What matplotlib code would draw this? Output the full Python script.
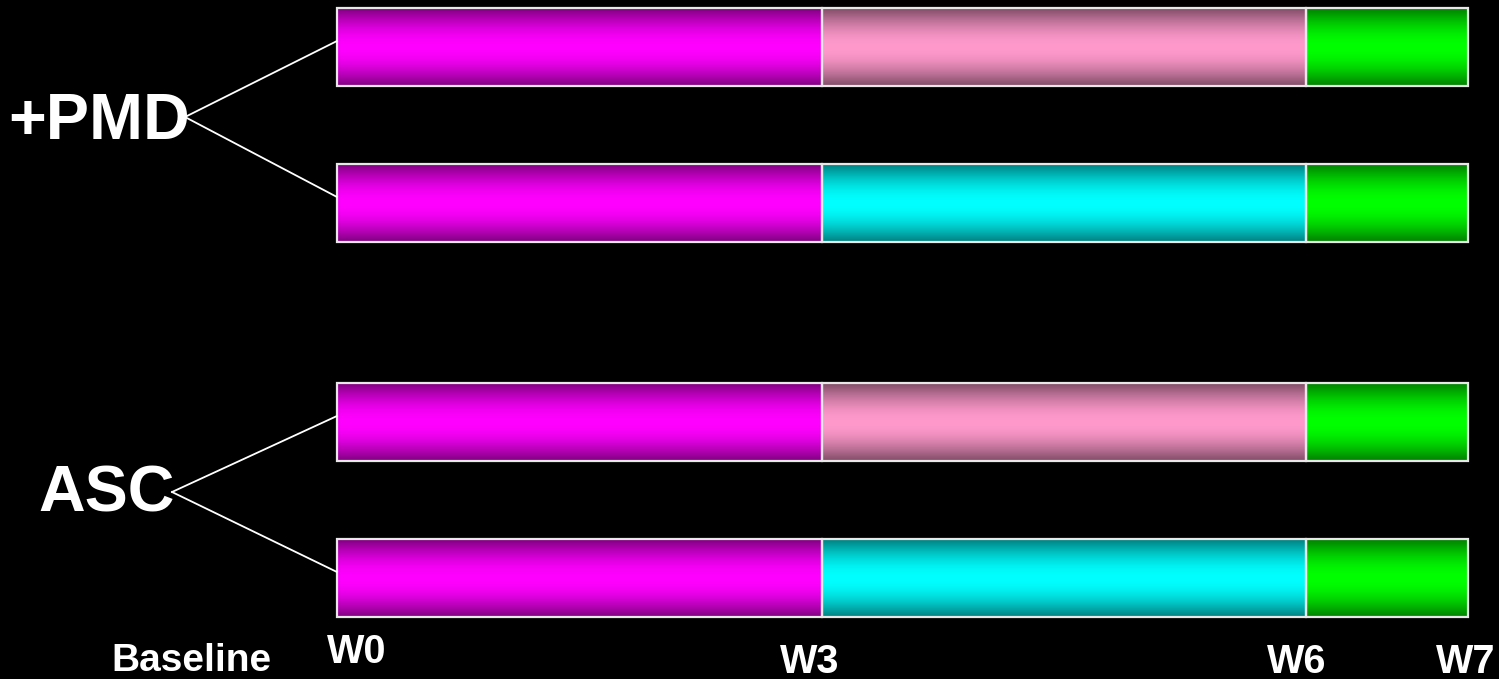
import matplotlib.pyplot as plt
import numpy as np

plt.rcParams['font.family'] = ['Liberation Sans', 'DejaVu Sans']

# week boundaries of each phase
weeks = [0, 3, 6, 7]
week_labels = ['W0', 'W3', 'W6', 'W7']
groups = ['+PMD', 'ASC']
# colour of the middle phase for each bar (top to bottom)
phase1_color = (1.0, 0.0, 1.0)
phase2_colors = [(1.0, 0.6, 0.8), (0.0, 1.0, 1.0), (1.0, 0.6, 0.8), (0.0, 1.0, 1.0)]
phase3_color = (0.0, 1.0, 0.0)

bar_tops = [8, 164, 383, 539]   # pixel rows
bar_h = 78

fig = plt.figure(figsize=(14.99, 6.79), dpi=100, facecolor='black')
ax = fig.add_axes([0, 0, 1, 1])
ax.set_facecolor('black')
px_week = 161.5
ax.set_xlim(-337 / px_week, (1499 - 337) / px_week)
ax.set_ylim(679, 0)
ax.axis('off')

t = np.linspace(0, 1, 200)
shade = 0.5 + 0.5 * np.sin(np.pi * t)

def grad_box(x0, x1, y0, col):
    img = np.ones((len(t), 1, 3)) * np.array(col)[None, None, :] * shade[:, None, None]
    ax.imshow(img, extent=[x0, x1, y0 + bar_h, y0], aspect='auto', interpolation='bilinear', zorder=1)
    ax.add_patch(plt.Rectangle((x0, y0), x1 - x0, bar_h, fill=False,
                               edgecolor='#e8e8e8', lw=1.6, zorder=2))

for i, y0 in enumerate(bar_tops):
    cols = [phase1_color, phase2_colors[i], phase3_color]
    for j in range(3):
        grad_box(weeks[j], weeks[j + 1], y0, cols[j])

# group labels with bracket lines
label_pos = [(99, 122, 185, 117), (107, 495, 172, 492)]
for k, g in enumerate(groups):
    lx, ly, sx, sy = label_pos[k]
    ax.text((lx - 337) / px_week, ly, g, color='white', fontsize=46.5, fontweight='bold',
            ha='center', va='center')
    for b in (bar_tops[2 * k], bar_tops[2 * k + 1]):
        ax.plot([(sx - 337) / px_week, 0], [sy, b + 33], color='white', lw=1.3, zorder=3)

ax.text((191 - 337) / px_week, 661, 'Baseline', color='white', fontsize=28,
        fontweight='bold', ha='center', va='center')
wl_x = [357, 810, 1297, 1466]
wl_y = [652, 662, 662, 662]
for lab, px, py in zip(week_labels, wl_x, wl_y):
    ax.text((px - 337) / px_week, py, lab, color='white', fontsize=28.5,
            fontweight='bold', ha='center', va='center')

fig.savefig('out.png', dpi=100, facecolor='black')
